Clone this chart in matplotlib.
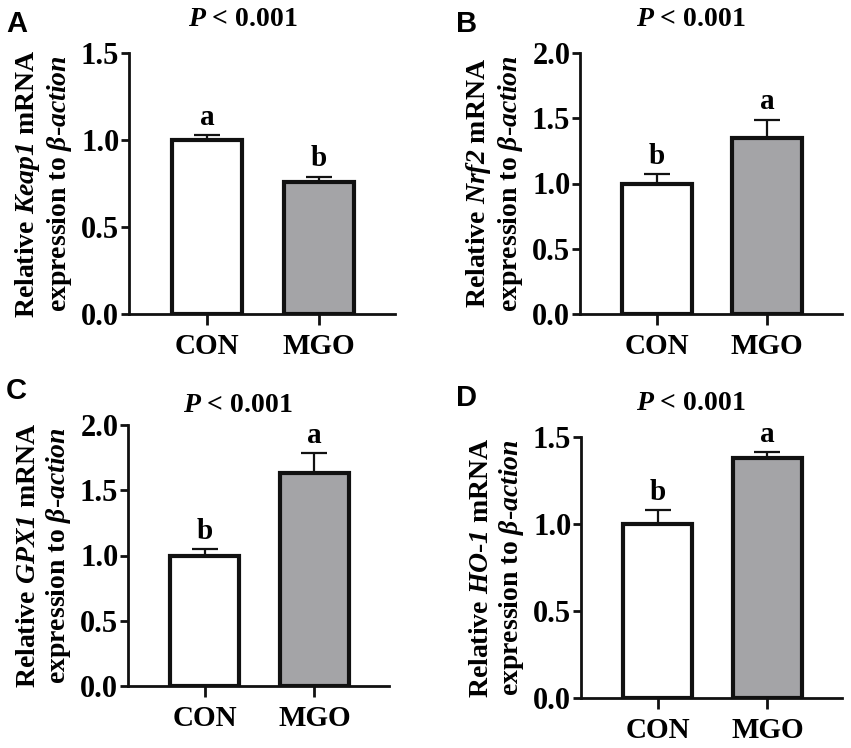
import matplotlib
matplotlib.use("Agg")
import matplotlib.pyplot as plt

plt.rcParams['font.family'] = 'Liberation Serif'
plt.rcParams['font.weight'] = 'bold'
# math parts are only used for the italic gene names, so make them all bold italic
plt.rcParams['mathtext.fontset'] = 'custom'
plt.rcParams['mathtext.rm'] = 'Liberation Serif:italic:bold'
plt.rcParams['mathtext.it'] = 'Liberation Serif:italic:bold'
plt.rcParams['mathtext.bf'] = 'Liberation Serif:italic:bold'

groups = ["CON", "MGO"]
genes = ["$Keap1$", "$Nrf2$", "$GPX1$", "$HO$-$1$"]
letters_panel = ["A", "B", "C", "D"]

keap1_mean = [1.00, 0.76]
keap1_err = [0.03, 0.03]
nrf2_mean = [1.00, 1.35]
nrf2_err = [0.07, 0.14]
gpx1_mean = [1.00, 1.63]
gpx1_err = [0.05, 0.155]
ho1_mean = [1.00, 1.38]
ho1_err = [0.08, 0.035]

keap1_sig = ["a", "b"]
nrf2_sig = ["b", "a"]
gpx1_sig = ["b", "a"]
ho1_sig = ["b", "a"]

ymax_list = [1.5, 2.0, 2.0, 1.5]
yticks_list = [[0, 0.5, 1.0, 1.5], [0, 0.5, 1.0, 1.5, 2.0],
               [0, 0.5, 1.0, 1.5, 2.0], [0, 0.5, 1.0, 1.5]]

means = [keap1_mean, nrf2_mean, gpx1_mean, ho1_mean]
errs = [keap1_err, nrf2_err, gpx1_err, ho1_err]
sigs = [keap1_sig, nrf2_sig, gpx1_sig, ho1_sig]

# axes rectangles in pixels: left, top, right, bottom
W, H = 851, 748
boxes = [(129, 53, 395, 314), (580, 53, 842, 314),
         (128, 425, 389, 686), (581, 437, 842, 698)]
# panel letter top-left, title centre (pixels)
letter_pos = [(6, 10), (456, 10), (6, 377), (456, 384)]
title_pos = [(243, 19), (691, 19), (238, 406), (691, 403)]

bar_colors = ["white", "#a4a4a7"]
ink = "#111111"

fig = plt.figure(figsize=(W / 100, H / 100), dpi=100)

for i in range(4):
    l, t, r, b = boxes[i]
    ax = fig.add_axes([l / W, 1 - b / H, (r - l) / W, (b - t) / H])
    x = [0, 1]
    upper = [[0, 0], errs[i]]
    ax.errorbar(x, means[i], yerr=upper, fmt="none", ecolor=ink,
                elinewidth=1.6, capsize=9.5, capthick=1.6, zorder=1)
    ax.bar(x, means[i], width=0.63, color=bar_colors, edgecolor=ink,
           linewidth=3.0, zorder=2)
    for j in range(2):
        ax.annotate(sigs[i][j], (x[j], means[i][j] + errs[i][j]),
                    xytext=(0, 3), textcoords="offset points",
                    ha="center", va="bottom", fontsize=21, fontweight="bold")
    ax.set_xlim(-0.7, 1.68)
    ax.set_ylim(0, ymax_list[i])
    ax.set_yticks(yticks_list[i])
    ax.set_yticklabels(["%.1f" % v for v in yticks_list[i]])
    ax.set_xticks(x)
    ax.set_xticklabels(groups)
    for side in ["top", "right"]:
        ax.spines[side].set_visible(False)
    for side in ["left", "bottom"]:
        ax.spines[side].set_linewidth(2.0)
        ax.spines[side].set_color(ink)
    ax.tick_params(axis="y", length=6, width=2.0, pad=1, labelsize=22, color=ink)
    ax.tick_params(axis="x", length=8, width=2.0, pad=6, labelsize=21, color=ink)
    ax.set_ylabel("Relative %s mRNA\nexpression to $β$-$action$" % genes[i],
                  fontsize=20, fontweight="bold", labelpad=5, linespacing=1.15)

    lx, ly = letter_pos[i]
    fig.text(lx / W, 1 - ly / H, letters_panel[i], family="Liberation Sans",
             fontsize=21, fontweight="bold", ha="left", va="top")
    tx, ty = title_pos[i]
    fig.text(tx / W, 1 - ty / H, "$P$ < 0.001", fontsize=20,
             fontweight="bold", ha="center", va="center")

fig.savefig("out.png", dpi=100)
